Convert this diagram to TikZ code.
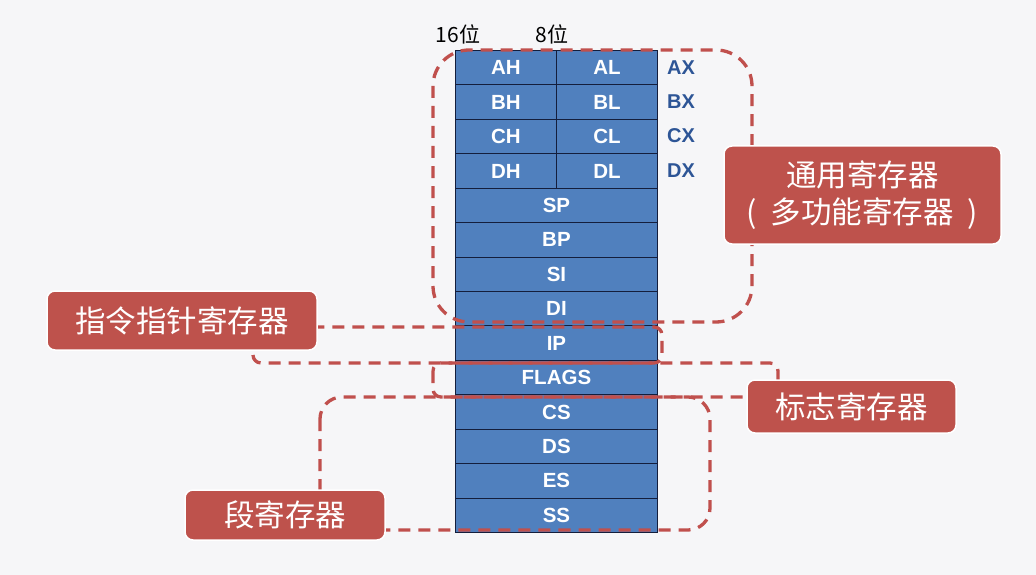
\documentclass[tikz,border=0pt]{standalone}
\usepackage{fontspec}
\setmainfont{Liberation Sans}
\newfontfamily\cjk{Noto Sans CJK SC}
\definecolor{bgc}{RGB}{246,246,248}
\definecolor{regblue}{RGB}{80,128,190}
\definecolor{regline}{RGB}{20,30,60}
\definecolor{axblue}{RGB}{45,85,150}
\definecolor{boxred}{RGB}{190,82,76}
\definecolor{dashred}{RGB}{192,80,77}
\begin{document}
\begin{tikzpicture}[x=1pt,y=-1pt,
  cell/.style={draw=regline,line width=0.9pt,fill=regblue,text=white,
    font=\bfseries\fontsize{20.5}{20.5}\selectfont,minimum height=34.43pt,
    inner sep=0pt,anchor=north west},
  half/.style={cell,minimum width=101pt},
  full/.style={cell,minimum width=202pt},
  xlab/.style={text=axblue,font=\bfseries\fontsize{20}{20}\selectfont,anchor=west,inner sep=0pt},
  toplab/.style={font=\cjk\fontsize{21}{21}\selectfont,inner sep=0pt},
  grp/.style={draw=dashred,line width=3.3pt,dash pattern=on 12pt off 8pt},
  lbl/.style={fill=boxred,draw=white,line width=1.5pt,rounded corners=8pt,text=white,
    font=\cjk\fontsize{30.5}{37}\selectfont,align=center,inner sep=0pt}
]
\fill[bgc] (0,0) rectangle (1036,575);
\useasboundingbox (0,0) rectangle (1036,575);

% 16/8 bit headers
\node[toplab] (h16) at (458,34) {16位};
\node[toplab] (h8) at (552,34) {8位};

% split registers
\node[half] (AH) at (455,50) {AH};
\node[half] (AL) at (556,50) {AL};
\node[half] (BH) at (455,84.43) {BH};
\node[half] (BL) at (556,84.43) {BL};
\node[half] (CH) at (455,118.86) {CH};
\node[half] (CL) at (556,118.86) {CL};
\node[half] (DH) at (455,153.29) {DH};
\node[half] (DL) at (556,153.29) {DL};
\node[xlab] (AX) at (667,67.2) {AX};
\node[xlab] (BX) at (667,101.6) {BX};
\node[xlab] (CX) at (667,136.1) {CX};
\node[xlab] (DX) at (667,170.5) {DX};
% full registers
\node[full] (SP) at (455,187.72) {SP};
\node[full] (BP) at (455,222.15) {BP};
\node[full] (SI) at (455,256.58) {SI};
\node[full] (DI) at (455,291.01) {DI};
\node[full] (IP) at (455,325.44) {IP};
\node[full] (FLAGS) at (455,359.87) {FLAGS};
\node[full] (CS) at (455,394.3) {CS};
\node[full] (DS) at (455,428.73) {DS};
\node[full] (ES) at (455,463.16) {ES};
\node[full] (SS) at (455,497.59) {SS};

% dashed groups
\draw[grp,rounded corners=36pt] (433,50) rectangle (752,322);
\draw[grp,rounded corners=8pt] (253,327) rectangle (662,363);
\draw[grp,rounded corners=8pt] (433,363) rectangle (778,397);
\draw[grp,rounded corners=22pt] (320,397) rectangle (710,530);

% labels
\node[lbl,minimum width=277pt,minimum height=98pt] (gen) at (862.5,195)
  {通用寄存器\\(\hspace{0.45em}多功能寄存器\hspace{0.45em})};
\node[lbl,minimum width=270pt,minimum height=59pt] (ipl) at (182,320.5) {指令指针寄存器};
\node[lbl,minimum width=209pt,minimum height=53pt] (flg) at (851.5,406.5) {标志寄存器};
\node[lbl,minimum width=200pt,minimum height=50pt] (seg) at (285,515) {段寄存器};
\end{tikzpicture}
\end{document}
